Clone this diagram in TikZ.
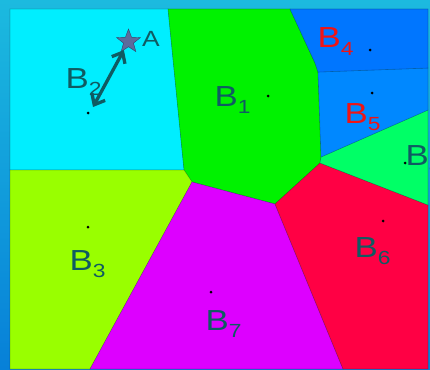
\documentclass[tikz,border=0pt]{standalone}
\usepackage{fontspec}
\setmainfont{Liberation Sans}
\usepackage{graphicx}
\usepackage{xcolor}
\usetikzlibrary{arrows.meta,shapes.geometric}

\definecolor{inkteal}{HTML}{0F5B62}
\definecolor{inkred}{HTML}{F01414}
\definecolor{backtop}{HTML}{1CBADF}
\definecolor{backbottom}{HTML}{0780D8}
\definecolor{starfill}{HTML}{5C6C9C}
\definecolor{starline}{HTML}{34436A}
\definecolor{cellcyan}{HTML}{00EEFF}
\definecolor{cellgreen}{HTML}{00F200}
\definecolor{celllime}{HTML}{99FF00}
\definecolor{cellazure}{HTML}{0076FF}
\definecolor{cellsky}{HTML}{0088FF}
\definecolor{cellspring}{HTML}{00FF66}
\definecolor{cellred}{HTML}{FF0044}
\definecolor{cellviolet}{HTML}{DD00FF}

\newcommand{\cellname}[1]{\scalebox{1.2}[1]{B\raisebox{-7.5pt}{\fontsize{19pt}{19pt}\selectfont #1}}}

\begin{document}
\begin{tikzpicture}[x=1pt, y=-1pt,
    cell/.style={draw=black, draw opacity=0.2, line width=0.6pt},
    seed/.style={circle, fill=black, inner sep=0pt, minimum size=3pt},
    tag/.style={anchor=base west, inner sep=0pt, text=inkteal, font=\fontsize{29pt}{29pt}\selectfont},
    link/.style={{Straight Barb[length=9pt,width=15pt]}-{Straight Barb[length=9pt,width=15pt]}, line width=3.3pt, inkteal}]
    \useasboundingbox (0,0) rectangle (430,369);
    \clip (0,0) rectangle (430,369);
    % Background
    \shade[top color=backtop, bottom color=backbottom] (0,0) rectangle (430,369);
    % Cells
    \filldraw[cell, fill=cellcyan] (10,9) -- (168,9) -- (184,170) -- (10,170) -- cycle;
    \filldraw[cell, fill=cellgreen] (168,9) -- (290,9) -- (315,63) -- (318,72) -- (321,157) -- (320,163) -- (275,204) -- (192,182) -- (184,170) -- cycle;
    \filldraw[cell, fill=celllime] (10,170) -- (184,170) -- (192,182) -- (90,369) -- (10,369) -- cycle;
    \filldraw[cell, fill=cellviolet] (192,182) -- (275,204) -- (343,369) -- (90,369) -- cycle;
    \filldraw[cell, fill=cellred] (275,204) -- (320,163) -- (428,205) -- (428,369) -- (343,369) -- cycle;
    \filldraw[cell, fill=cellspring] (321,157) -- (428,110) -- (428,205) -- (320,163) -- cycle;
    \filldraw[cell, fill=cellsky] (318,72) -- (428,68) -- (428,110) -- (321,157) -- cycle;
    \filldraw[cell, fill=cellazure] (290,9) -- (428,9) -- (428,68) -- (318,72) -- (315,63) -- cycle;
    % Seeds
    \node[seed] (s1) at (268,96) {};
    \node[seed] (s2) at (88,113) {};
    \node[seed] (s3) at (88,227) {};
    \node[seed] (s4) at (370,50) {};
    \node[seed] (s5) at (372,93) {};
    \node[seed] (s6) at (383,221) {};
    \node[seed] (s7) at (211,292) {};
    \node[seed] (s8) at (405,163) {};
    % Labels
    \node[tag] (l1) at (214.4,106) {\cellname{1}};
    \node[tag] (l2) at (65.4,88) {\cellname{2}};
    \node[tag] (l3) at (69.4,270) {\cellname{3}};
    \node[tag, text=inkred] (l4) at (317.4,48) {\cellname{4}};
    \node[tag, text=inkred] (l5) at (344.4,123) {\cellname{5}};
    \node[tag] (l6) at (354.4,257) {\cellname{6}};
    \node[tag] (l7) at (205.4,330) {\cellname{7}};
    \node[tag] (l8) at (405.4,165) {\cellname{8}};
    % Query point and its nearest seed
    \node[star, star points=5, star point ratio=2.4, minimum size=25pt, inner sep=0pt,
          fill=starfill, draw=starline] (a) at (128.5,41.5) {};
    \node[tag, font=\fontsize{22pt}{22pt}\selectfont] (alab) at (142,47) {\scalebox{1.2}[1]{A}};
    \coordinate (b2end) at (93,107);
    \draw[link] (a) -- (b2end);
\end{tikzpicture}
\end{document}
